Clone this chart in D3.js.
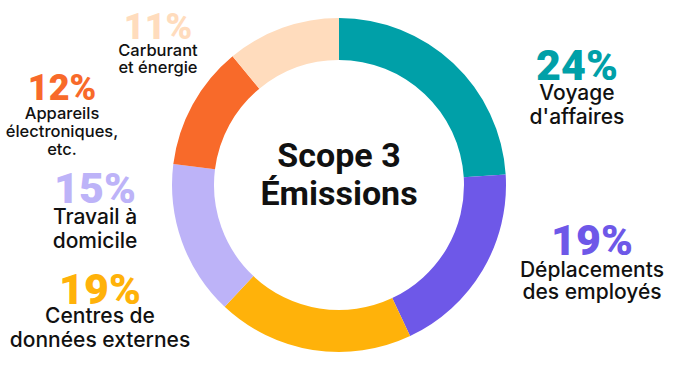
<!DOCTYPE html>
<html><head><meta charset="utf-8">
<script src="https://cdn.jsdelivr.net/npm/d3@7"></script>
<style>html,body{margin:0;padding:0;background:#fff;}svg{display:block;}</style>
</head><body>
<svg id="c" width="677" height="371"></svg>
<script>
const categories = ["Voyage d'affaires","Déplacements des employés","Centres de données externes","Travail à domicile","Appareils électroniques, etc.","Carburant et énergie"];
const values = [24,19,19,15,12,11];
const colors = ["#00a0a8","#6e58e8","#ffb20a","#bdb3f8","#f86a2a","#ffdcbd"];
const labelLines = [["Voyage","d'affaires"],["Déplacements","des employés"],["Centres de","données externes"],["Travail à","domicile"],["Appareils","électroniques,","etc."],["Carburant","et énergie"]];
const labelPos = [
  {x:577,y:80,fs:43,ls:21,lh:24,gap:20},
  {x:592,y:255,fs:43,ls:21,lh:22,gap:22},
  {x:100,y:304,fs:43,ls:21,lh:24,gap:19},
  {x:95,y:203,fs:43,ls:21,lh:24,gap:21},
  {x:62,y:100,fs:36,ls:16.5,lh:18,gap:19},
  {x:158,y:39,fs:36,ls:16.5,lh:17,gap:17}
];
const svg = d3.select("#c");
const cx = 339, cy = 185, rO = 167, rI = 125;
const pie = d3.pie().sort(null).value(d=>d)(values);
const arc = d3.arc().innerRadius(rI).outerRadius(rO);
const g = svg.append("g").attr("transform",`translate(${cx},${cy})`);
g.selectAll("path").data(pie).join("path").attr("d",arc).attr("fill",(d,i)=>colors[i]);
g.append("text").attr("text-anchor","middle").attr("y",-18).attr("font-family","Roboto").attr("font-weight",700).attr("font-size",34).attr("fill","#111").text("Scope 3");
g.append("text").attr("text-anchor","middle").attr("y",20).attr("font-family","Roboto").attr("font-weight",700).attr("font-size",34).attr("fill","#111").text("Émissions");
values.forEach((v,i)=>{
  const p = labelPos[i];
  svg.append("text").attr("x",p.x).attr("y",p.y).attr("text-anchor","middle")
    .attr("font-family","Roboto").attr("font-weight",900).attr("font-size",p.fs).attr("fill",colors[i]).text(v+"%");
  labelLines[i].forEach((l,j)=>{
    svg.append("text").attr("x",p.x).attr("y",p.y+p.gap+j*p.lh).attr("text-anchor","middle")
      .attr("font-family","Inter").attr("font-weight",500).attr("font-size",p.ls).attr("fill","#111").text(l);
  });
});
</script>
</body></html>
